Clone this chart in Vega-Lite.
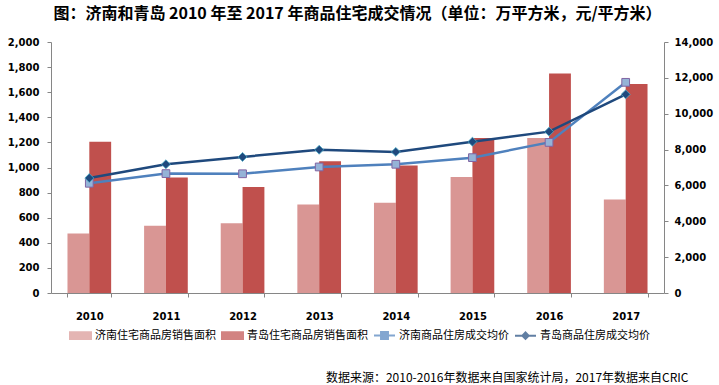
{
  "$schema": "https://vega.github.io/schema/vega-lite/v6.json",
  "width": 613,
  "height": 251,
  "autosize": {"type": "none"},
  "padding": {"left": 51, "top": 42, "right": 55, "bottom": 92},
  "background": "white",
  "title": {
    "text": "图：济南和青岛 2010 年至 2017 年商品住宅成交情况（单位：万平方米，元/平方米）",
    "font": "Noto Sans CJK SC",
    "fontSize": 16,
    "fontWeight": "bold",
    "color": "#000000",
    "anchor": "middle",
    "baseline": "bottom",
    "offset": -1
  },
  "config": {
    "view": {"stroke": null},
    "axis": {
      "grid": false,
      "domainColor": "#868686",
      "tickColor": "#868686",
      "tickSize": 4,
      "labelFont": "DejaVu Sans",
      "labelFontWeight": "bold",
      "labelFontSize": 10,
      "labelColor": "#000000"
    },
    "legend": {
      "orient": "none",
      "legendX": 18,
      "legendY": 282,
      "direction": "horizontal",
      "title": null,
      "labelFont": "Noto Sans CJK SC",
      "labelFontSize": 11,
      "labelColor": "#000000",
      "symbolSize": 441,
      "symbolStrokeWidth": 2,
      "columnPadding": 2,
      "labelOffset": 3,
      "padding": 0
    }
  },
  "data": {
    "values": [
      {"year": "2010", "series": "济南住宅商品房销售面积", "kind": "bar", "value": 475},
      {"year": "2011", "series": "济南住宅商品房销售面积", "kind": "bar", "value": 535},
      {"year": "2012", "series": "济南住宅商品房销售面积", "kind": "bar", "value": 555},
      {"year": "2013", "series": "济南住宅商品房销售面积", "kind": "bar", "value": 705},
      {"year": "2014", "series": "济南住宅商品房销售面积", "kind": "bar", "value": 720},
      {"year": "2015", "series": "济南住宅商品房销售面积", "kind": "bar", "value": 925},
      {"year": "2016", "series": "济南住宅商品房销售面积", "kind": "bar", "value": 1235},
      {"year": "2017", "series": "济南住宅商品房销售面积", "kind": "bar", "value": 745},
      {"year": "2010", "series": "青岛住宅商品房销售面积", "kind": "bar", "value": 1205},
      {"year": "2011", "series": "青岛住宅商品房销售面积", "kind": "bar", "value": 920},
      {"year": "2012", "series": "青岛住宅商品房销售面积", "kind": "bar", "value": 845},
      {"year": "2013", "series": "青岛住宅商品房销售面积", "kind": "bar", "value": 1050},
      {"year": "2014", "series": "青岛住宅商品房销售面积", "kind": "bar", "value": 1015},
      {"year": "2015", "series": "青岛住宅商品房销售面积", "kind": "bar", "value": 1235},
      {"year": "2016", "series": "青岛住宅商品房销售面积", "kind": "bar", "value": 1750},
      {"year": "2017", "series": "青岛住宅商品房销售面积", "kind": "bar", "value": 1665},
      {"year": "2010", "series": "济南商品住房成交均价", "kind": "line", "value": 6120},
      {"year": "2011", "series": "济南商品住房成交均价", "kind": "line", "value": 6660},
      {"year": "2012", "series": "济南商品住房成交均价", "kind": "line", "value": 6650},
      {"year": "2013", "series": "济南商品住房成交均价", "kind": "line", "value": 7030},
      {"year": "2014", "series": "济南商品住房成交均价", "kind": "line", "value": 7180},
      {"year": "2015", "series": "济南商品住房成交均价", "kind": "line", "value": 7550},
      {"year": "2016", "series": "济南商品住房成交均价", "kind": "line", "value": 8400},
      {"year": "2017", "series": "济南商品住房成交均价", "kind": "line", "value": 11750},
      {"year": "2010", "series": "青岛商品住房成交均价", "kind": "line", "value": 6410},
      {"year": "2011", "series": "青岛商品住房成交均价", "kind": "line", "value": 7180},
      {"year": "2012", "series": "青岛商品住房成交均价", "kind": "line", "value": 7590},
      {"year": "2013", "series": "青岛商品住房成交均价", "kind": "line", "value": 7990},
      {"year": "2014", "series": "青岛商品住房成交均价", "kind": "line", "value": 7870},
      {"year": "2015", "series": "青岛商品住房成交均价", "kind": "line", "value": 8440},
      {"year": "2016", "series": "青岛商品住房成交均价", "kind": "line", "value": 9000},
      {"year": "2017", "series": "青岛商品住房成交均价", "kind": "line", "value": 11080}
    ]
  },
  "encoding": {
    "x": {
      "field": "year",
      "type": "nominal",
      "scale": {"paddingInner": 0.43, "paddingOuter": 0.215},
      "axis": {
        "labelAngle": 0,
        "tickBand": "extent",
        "labelPadding": 14,
        "title": "数据来源：2010-2016年数据来自国家统计局，2017年数据来自CRIC",
        "titleFont": "Noto Sans CJK SC",
        "titleFontSize": 12,
        "titleFontWeight": "normal",
        "titleColor": "#000000",
        "titleAlign": "right",
        "titleBaseline": "middle",
        "titleX": 637,
        "titleY": 84
      }
    }
  },
  "layer": [
    {
      "transform": [{"filter": "datum.kind === 'bar'"}],
      "mark": {"type": "bar"},
      "encoding": {
        "xOffset": {
          "field": "series",
          "type": "nominal",
          "scale": {"domain": ["济南住宅商品房销售面积", "青岛住宅商品房销售面积"]}
        },
        "y": {
          "field": "value",
          "type": "quantitative",
          "scale": {"domain": [0, 2000]},
          "axis": {"title": null, "tickCount": 10, "format": ",d", "labelPadding": 8, "orient": "left"}
        },
        "color": {
          "field": "series",
          "type": "nominal",
          "scale": {
            "domain": ["济南住宅商品房销售面积", "青岛住宅商品房销售面积", "济南商品住房成交均价", "青岛商品住房成交均价"],
            "range": ["#D99694", "#C0504D", "#4F81BD", "#1F497D"]
          }
        }
      }
    },
    {
      "transform": [{"filter": "datum.kind === 'line'"}],
      "encoding": {
        "y": {
          "field": "value",
          "type": "quantitative",
          "scale": {"domain": [0, 14000]},
          "axis": {"title": null, "tickCount": 7, "format": ",d", "labelPadding": 6, "orient": "right"}
        }
      },
      "layer": [
        {
          "mark": {"type": "line", "strokeWidth": 2.5},
          "encoding": {
            "color": {"field": "series", "type": "nominal"}
          }
        },
        {
          "transform": [{"filter": "datum.series === '济南商品住房成交均价'"}],
          "mark": {"type": "point", "shape": "square", "filled": true, "fill": "#95B3D7", "stroke": "#8064A2", "strokeWidth": 1, "size": 60, "opacity": 1}
        },
        {
          "transform": [{"filter": "datum.series === '青岛商品住房成交均价'"}],
          "mark": {"type": "point", "shape": "diamond", "filled": true, "fill": "#1F497D", "stroke": "#4BACC6", "strokeWidth": 0.8, "size": 80, "opacity": 1}
        },
        {
          "transform": [{"filter": "datum.kind === 'none'"}],
          "mark": {"type": "point", "filled": true},
          "encoding": {
            "color": {"field": "series", "type": "nominal"},
            "shape": {
              "field": "series",
              "type": "nominal",
              "scale": {
                "domain": ["济南住宅商品房销售面积", "青岛住宅商品房销售面积", "济南商品住房成交均价", "青岛商品住房成交均价"],
                "range": [
                  "M-1,-0.32H1V0.32H-1Z",
                  "M-1,-0.32H1V0.32H-1Z",
                  "M-1,0H-0.33M0.33,0H1M-0.33,-0.33H0.33V0.33H-0.33Z",
                  "M-1,0H-0.3M0.3,0H1M0,-0.3L0.3,0L0,0.3L-0.3,0Z"
                ]
              }
            }
          }
        }
      ]
    }
  ],
  "resolve": {"scale": {"y": "independent"}}
}
